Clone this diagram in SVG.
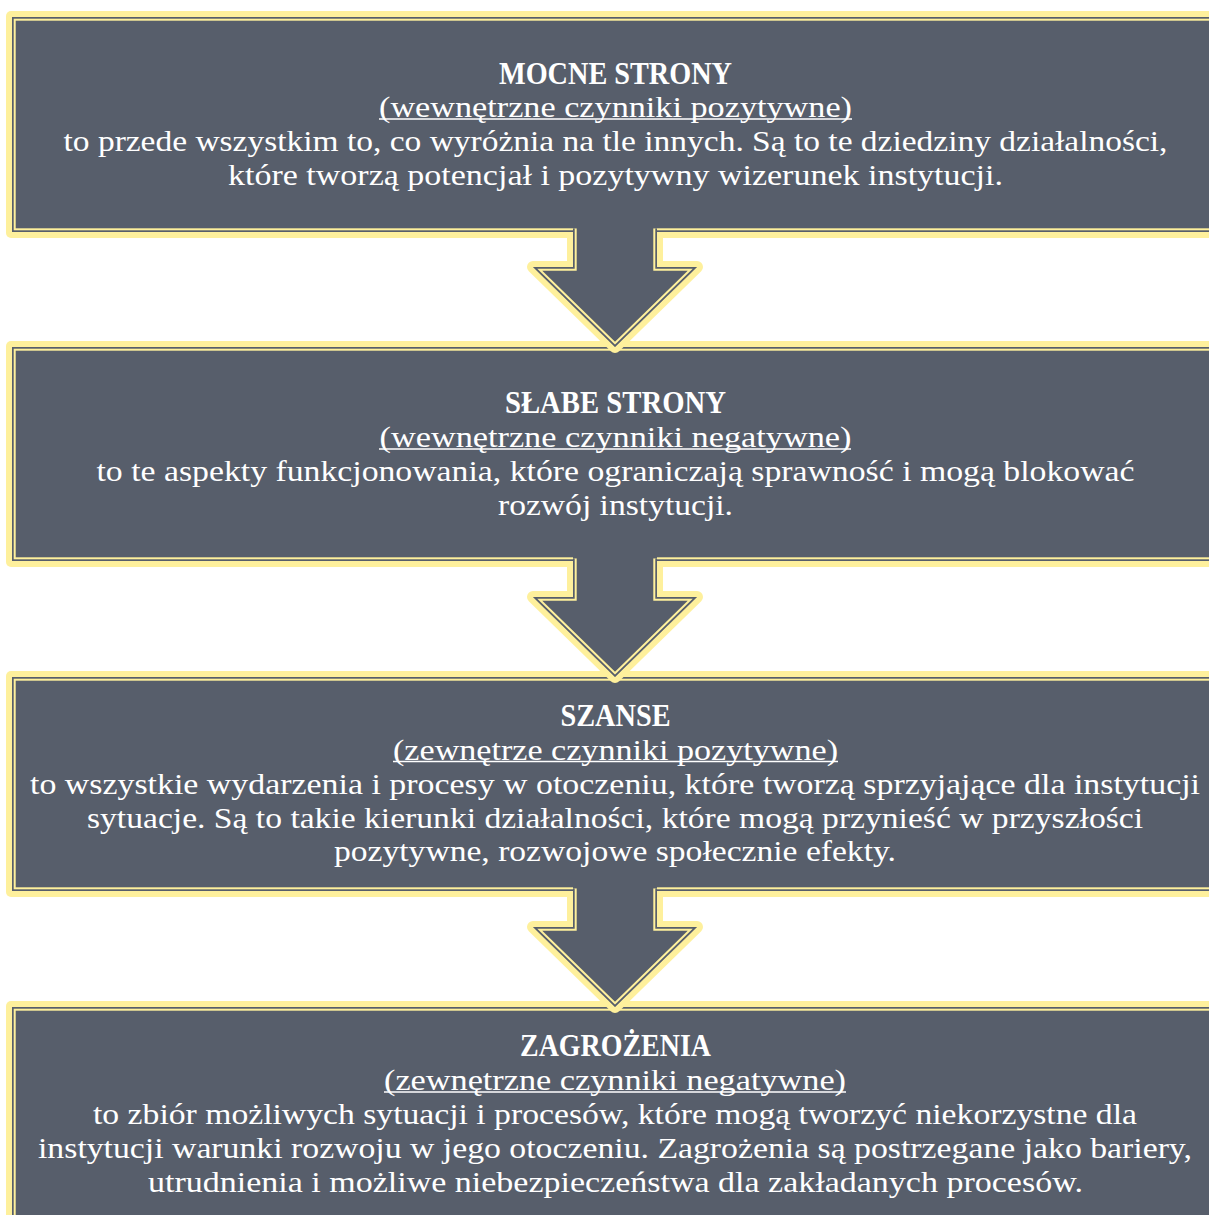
<svg xmlns="http://www.w3.org/2000/svg" xmlns:xlink="http://www.w3.org/1999/xlink" width="1209" height="1215" viewBox="0 0 1209 1215">
<style>
.outer{fill:#fef09c}
.fill{fill:#575e6b}
.inner{fill:none;stroke:#fef09c;stroke-width:2}
.t{font-family:"Liberation Serif","Times New Roman",serif;font-size:30px;fill:#ffffff;text-anchor:middle}
.b{font-weight:bold;font-size:31px}
.ul{stroke:#ffffff;stroke-width:1.5}
.aout{fill:none;stroke:#fef09c;stroke-width:12;stroke-linejoin:round;stroke-linecap:butt}
.ainY{fill:none;stroke:#fef09c;stroke-width:7.4;stroke-linejoin:miter}
.ainD{fill:none;stroke:#575e6b;stroke-width:3.4;stroke-linejoin:miter}
</style>
<defs>
<clipPath id="arrowClip" clipPathUnits="userSpaceOnUse">
<path d="M573,228.3 V267 H533 L615,347 L697,267 H657 V228.3 Z"/>
</clipPath>
<g id="arrowShape">
<path class="aout" d="M573,232 V267 H533 L615,347 L697,267 H657 V232"/>
<path class="fill" d="M573,225 V267 H533 L615,347 L697,267 H657 V225 Z"/>
<g clip-path="url(#arrowClip)">
<path class="ainY" d="M573,228.3 V267 H533 L615,347 L697,267 H657 V228.3"/>
<path class="ainD" d="M573,228.3 V267 H533 L615,347 L697,267 H657 V228.3"/>
</g>
</g>
</defs>

<g id="node-mocne">
<rect class="outer" x="6" y="11" width="1240" height="227" rx="5"/>
<rect class="fill" x="12" y="17" width="1230" height="215"/>
<rect class="inner" x="14.7" y="19.7" width="1230" height="209.6"/>
<text class="t b" x="615.5" y="83.5" textLength="233" lengthAdjust="spacingAndGlyphs">MOCNE STRONY</text>
<text class="t" x="615.5" y="117" textLength="473" lengthAdjust="spacingAndGlyphs">(wewnętrzne czynniki pozytywne)</text>
<line class="ul" x1="379" y1="119" x2="852" y2="119"/>
<text class="t" x="615.5" y="151" textLength="1104" lengthAdjust="spacingAndGlyphs">to przede wszystkim to, co wyróżnia na tle innych. Są to te dziedziny działalności,</text>
<text class="t" x="615.5" y="185" textLength="775" lengthAdjust="spacingAndGlyphs">które tworzą potencjał i pozytywny wizerunek instytucji.</text>
</g>

<g id="node-slabe">
<rect class="outer" x="6" y="341" width="1240" height="226" rx="5"/>
<rect class="fill" x="12" y="347" width="1230" height="214"/>
<rect class="inner" x="14.7" y="349.7" width="1230" height="208.6"/>
<text class="t b" x="615.5" y="413" textLength="221" lengthAdjust="spacingAndGlyphs">SŁABE STRONY</text>
<text class="t" x="615.5" y="447" textLength="472" lengthAdjust="spacingAndGlyphs">(wewnętrzne czynniki negatywne)</text>
<line class="ul" x1="379" y1="449" x2="851" y2="449"/>
<text class="t" x="615.5" y="481" textLength="1038" lengthAdjust="spacingAndGlyphs">to te aspekty funkcjonowania, które ograniczają sprawność i mogą blokować</text>
<text class="t" x="615.5" y="515" textLength="235" lengthAdjust="spacingAndGlyphs">rozwój instytucji.</text>
</g>

<g id="node-szanse">
<rect class="outer" x="6" y="671" width="1240" height="226" rx="5"/>
<rect class="fill" x="12" y="677" width="1230" height="214"/>
<rect class="inner" x="14.7" y="679.7" width="1230" height="208.6"/>
<text class="t b" x="615.5" y="725.5" textLength="110" lengthAdjust="spacingAndGlyphs">SZANSE</text>
<text class="t" x="615.5" y="759.5" textLength="445" lengthAdjust="spacingAndGlyphs">(zewnętrze czynniki pozytywne)</text>
<line class="ul" x1="393" y1="761.5" x2="838" y2="761.5"/>
<text class="t" x="615" y="793.5" textLength="1170" lengthAdjust="spacingAndGlyphs">to wszystkie wydarzenia i procesy w otoczeniu, które tworzą sprzyjające dla instytucji</text>
<text class="t" x="615" y="827.5" textLength="1056" lengthAdjust="spacingAndGlyphs">sytuacje. Są to takie kierunki działalności, które mogą przynieść w przyszłości</text>
<text class="t" x="615" y="861" textLength="562" lengthAdjust="spacingAndGlyphs">pozytywne, rozwojowe społecznie efekty.</text>
</g>

<g id="node-zagrozenia">
<rect class="outer" x="6" y="1001" width="1240" height="300" rx="5"/>
<rect class="fill" x="12" y="1007" width="1230" height="290"/>
<rect class="inner" x="14.7" y="1009.7" width="1230" height="284"/>
<text class="t b" x="615.5" y="1056" textLength="191" lengthAdjust="spacingAndGlyphs">ZAGROŻENIA</text>
<text class="t" x="615" y="1090" textLength="462" lengthAdjust="spacingAndGlyphs">(zewnętrzne czynniki negatywne)</text>
<line class="ul" x1="384" y1="1092" x2="846" y2="1092"/>
<text class="t" x="615" y="1124" textLength="1044" lengthAdjust="spacingAndGlyphs">to zbiór możliwych sytuacji i procesów, które mogą tworzyć niekorzystne dla</text>
<text class="t" x="615" y="1158" textLength="1154" lengthAdjust="spacingAndGlyphs">instytucji warunki rozwoju w jego otoczeniu. Zagrożenia są postrzegane jako bariery,</text>
<text class="t" x="615.5" y="1192" textLength="935" lengthAdjust="spacingAndGlyphs">utrudnienia i możliwe niebezpieczeństwa dla zakładanych procesów.</text>
</g>

<g id="connectors">
<use xlink:href="#arrowShape" href="#arrowShape" x="0" y="0"/>
<use xlink:href="#arrowShape" href="#arrowShape" x="0" y="330"/>
<use xlink:href="#arrowShape" href="#arrowShape" x="0" y="660"/>
</g>
</svg>
